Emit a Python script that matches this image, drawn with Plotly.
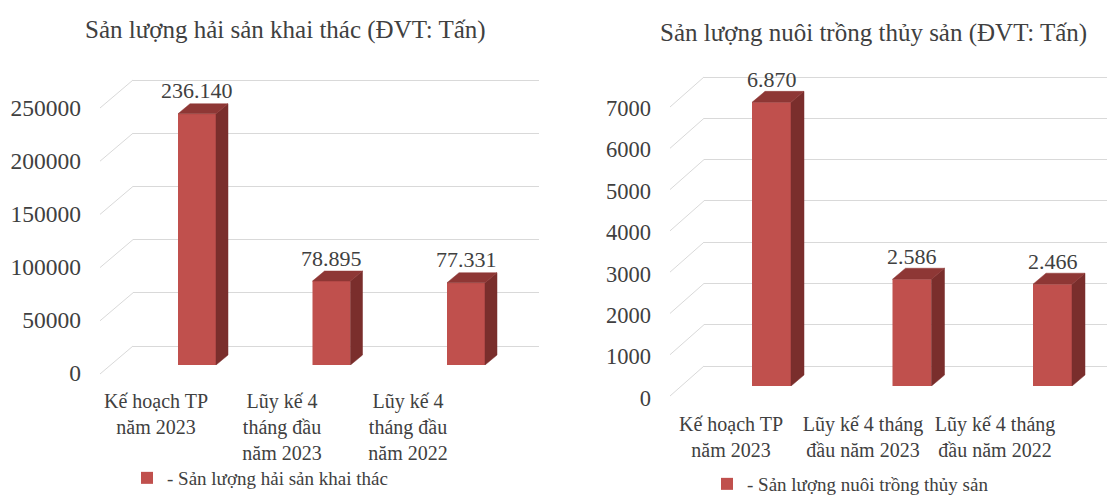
import plotly.graph_objects as go

# ---------------- data ----------------
categories_left = ["Kế hoạch TP<br>năm 2023", "Lũy kế 4<br>tháng đầu<br>năm 2023", "Lũy kế 4<br>tháng đầu<br>năm 2022"]
values_left = [236140, 78895, 77331]
ticks_left = [0, 50000, 100000, 150000, 200000, 250000]
title_left = "Sản lượng hải sản khai thác (ĐVT: Tấn)"
series_left = "- Sản lượng hải sản khai thác"

categories_right = ["Kế hoạch TP<br>năm 2023", "Lũy kế 4 tháng<br>đầu năm 2023", "Lũy kế 4 tháng<br>đầu năm 2022"]
values_right = [6870, 2586, 2466]
ticks_right = [0, 1000, 2000, 3000, 4000, 5000, 6000, 7000]
title_right = "Sản lượng nuôi trồng thủy sản (ĐVT: Tấn)"
series_right = "- Sản lượng nuôi trồng thủy sản"

# ---------------- style ----------------
W, H = 1115, 495
OX, OY = 8, 8          # page offset of the plot div (body margin)
FONT = "Liberation Serif"
TXT = "#404040"
GRID = "#D9D9D9"
FRONT = "#C0504D"
TOP = "#8E3735"
SIDE = "#7A2E2C"


def px(p):
    return (p - OX) / W


def py(p):
    return 1 - (p - OY) / H


def xdom(a, b):
    return [max(0, px(a)), min(1, px(b))]


def ydom(top_px, bottom_px):
    return [py(bottom_px), py(top_px)]


fig = go.Figure()
layout = dict(
    width=W, height=H, margin=dict(l=0, r=0, t=0, b=0, pad=0, autoexpand=False),
    paper_bgcolor="white", plot_bgcolor="rgba(0,0,0,0)",
    font=dict(family=FONT, color=TXT, size=21),
    showlegend=True, annotations=[], shapes=[],
)


def build(panel, cats, vals, ticks, title, series, g, legend_name):
    n0 = 3 * panel
    ax_wall, ax_bar, ax_lab = n0 + 1, n0 + 2, n0 + 3

    def xn(n):
        return "xaxis" if n == 1 else f"xaxis{n}"

    def yn(n):
        return "yaxis" if n == 1 else f"yaxis{n}"

    def xr(n):
        return "x" if n == 1 else f"x{n}"

    def yr(n):
        return "y" if n == 1 else f"y{n}"

    s = g["scale"]
    # ---- back wall with grid ----
    wlo = -g["diag_dy"] / s * 1.3
    whi = ticks[-1] * 1.02
    wb = g["wall_zero"] - wlo * s
    wt = g["wall_zero"] - whi * s
    x1 = min(g["wall_x1"], W + OX)
    layout[xn(ax_wall)] = dict(domain=xdom(g["wall_x0"], x1), range=[0, 1],
                               visible=False, anchor=yr(ax_wall))
    layout[yn(ax_wall)] = dict(domain=ydom(wt, wb), range=[wlo, whi], anchor=xr(ax_wall),
                               tickvals=ticks, showticklabels=False, showgrid=True,
                               gridcolor=GRID, gridwidth=1, zeroline=False, showline=False, ticks="")
    fig.add_trace(go.Scatter(x=[0.5], y=[0], mode="markers", marker=dict(opacity=0),
                             showlegend=False, hoverinfo="skip",
                             xaxis=xr(ax_wall), yaxis=yr(ax_wall)))
    for v in ticks:
        layout["shapes"].append(dict(
            type="line", xref="paper", yref=yr(ax_wall),
            x0=px(g["wall_x0"]), y0=v, x1=px(g["wall_x0"] - g["diag_dx"]), y1=v - g["diag_dy"] / s,
            line=dict(color=GRID, width=1)))

    # ---- bars ----
    sp = g["spacing"]
    c0 = g["bar_c0"]
    bx0, bx1 = g["bar_x0"], g["bar_x1"]
    ytop_px = 55
    bhi = (g["bar_zero"] - ytop_px) / s
    layout[xn(ax_bar)] = dict(domain=xdom(bx0, bx1), range=[(bx0 - c0) / sp, (bx1 - c0) / sp],
                              visible=False, anchor=yr(ax_bar))
    layout[yn(ax_bar)] = dict(domain=ydom(ytop_px, g["bar_zero"]), range=[0, bhi], visible=False,
                              anchor=xr(ax_bar))
    bw = g["bar_w"] / sp
    ddx = g["depth_dx"] / sp
    ddy = g["depth_dy"] / s
    xs = list(range(len(vals)))
    fig.add_trace(go.Bar(x=xs, y=vals, width=bw, marker=dict(color=FRONT, line=dict(width=0)),
                         name=series, xaxis=xr(ax_bar), yaxis=yr(ax_bar), legend=legend_name,
                         hoverinfo="skip"))
    for i, v in zip(xs, vals):
        r = i + bw / 2
        l = i - bw / 2
        fig.add_trace(go.Scatter(x=[r, r + ddx, r + ddx, r, r], y=[0, ddy, v + ddy, v, 0],
                                 fill="toself", fillcolor=SIDE, mode="lines",
                                 line=dict(color=SIDE, width=0.5), showlegend=False,
                                 xaxis=xr(ax_bar), yaxis=yr(ax_bar), hoverinfo="skip"))
        fig.add_trace(go.Scatter(x=[l, l + ddx, r + ddx, r, l], y=[v, v + ddy, v + ddy, v, v],
                                 fill="toself", fillcolor=TOP, mode="lines",
                                 line=dict(color=TOP, width=0.5), showlegend=False,
                                 xaxis=xr(ax_bar), yaxis=yr(ax_bar), hoverinfo="skip"))
        layout["annotations"].append(dict(
            x=i, y=v, xref=xr(ax_bar), yref=yr(ax_bar), text=f"{v:,}".replace(",", "."),
            showarrow=False, yanchor="middle", yshift=g["lab_shift"],
            font=dict(family=FONT, size=22, color=TXT)))

    # ---- axis labels ----
    lsp = g["cat_spacing"]
    lc0 = g["cat_c0"]
    lx0 = g["lab_x0"]
    layout[xn(ax_lab)] = dict(domain=xdom(lx0, bx1), range=[(lx0 - lc0) / lsp, (bx1 - lc0) / lsp],
                              anchor=yr(ax_lab), tickvals=xs, ticktext=cats, showgrid=False,
                              zeroline=False, showline=False, ticks="",
                              ticklabelstandoff=g["cat_standoff"],
                              tickfont=dict(family=FONT, size=20, color=TXT))
    layout[yn(ax_lab)] = dict(domain=ydom(g["lab_top"], g["lab_zero"]), range=[0, ticks[-1]],
                              anchor=xr(ax_lab), tickvals=ticks, ticktext=[str(t) for t in ticks],
                              showgrid=False, zeroline=False, showline=False, ticks="",
                              ticklabelstandoff=g["y_standoff"],
                              tickfont=dict(family=FONT, size=g["ytick_size"], color=TXT))
    fig.add_trace(go.Scatter(x=[0], y=[0], mode="markers", marker=dict(opacity=0),
                             showlegend=False, hoverinfo="skip",
                             xaxis=xr(ax_lab), yaxis=yr(ax_lab)))

    # ---- title ----
    layout["annotations"].append(dict(
        x=px(g["title_x"]), y=py(g["title_y"]), xref="paper", yref="paper", text=title,
        showarrow=False, xanchor="center", yanchor="middle",
        font=dict(family=FONT, size=25, color=TXT)))

    # ---- legend ----
    layout[legend_name] = dict(x=px(g["leg_x"]), y=py(g["leg_y"]), xanchor="left", yanchor="middle",
                               bgcolor="rgba(0,0,0,0)", font=dict(family=FONT, size=19, color=TXT),
                               itemwidth=30)


geo_left = dict(scale=266 / 250000, wall_zero=346, wall_x0=133, wall_x1=539,
                diag_dx=33, diag_dy=28,
                bar_zero=365, bar_c0=197, spacing=134.5, bar_x0=100, bar_x1=545, bar_w=38,
                depth_dx=12, depth_dy=10, lab_shift=23,
                cat_c0=156, cat_spacing=126, lab_x0=100, cat_standoff=14,
                lab_zero=373, lab_top=108, y_standoff=18, ytick_size=23.5,
                title_x=285, title_y=30, leg_x=127, leg_y=478)

geo_right = dict(scale=289 / 7000, wall_zero=366, wall_x0=704, wall_x1=1130,
                 diag_dx=34, diag_dy=30,
                 bar_zero=386, bar_c0=771.5, spacing=140.5, bar_x0=660, bar_x1=1123, bar_w=39,
                 depth_dx=13, depth_dy=11, lab_shift=23,
                 cat_c0=731, cat_spacing=132, lab_x0=670, cat_standoff=12,
                 lab_zero=398, lab_top=108, y_standoff=18, ytick_size=22.5,
                 title_x=873, title_y=33, leg_x=707, leg_y=484)

build(0, categories_left, values_left, ticks_left, title_left, series_left, geo_left, "legend")
build(1, categories_right, values_right, ticks_right, title_right, series_right, geo_right, "legend2")

fig.update_layout(**layout)
fig.write_html("out.html")
